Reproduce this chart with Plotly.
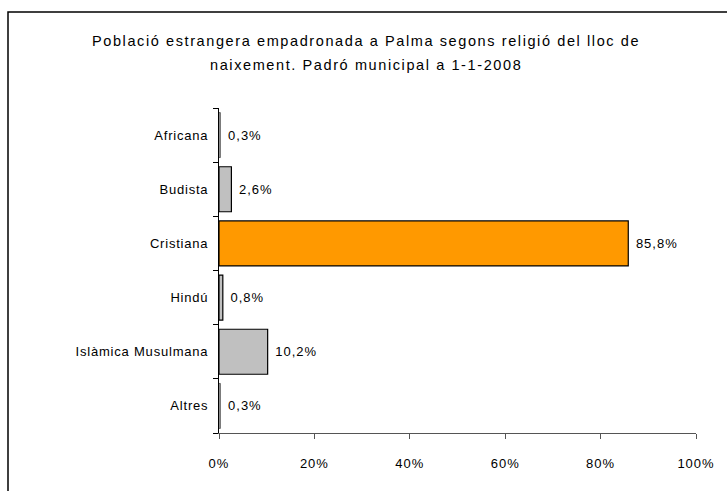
import plotly.graph_objects as go

categories = ["Africana", "Budista", "Cristiana", "Hindú", "Islàmica Musulmana", "Altres"]
values = [0.3, 2.6, 85.8, 0.8, 10.2, 0.3]
bar_colors = ["#C0C0C0", "#C0C0C0", "#FF9900", "#C0C0C0", "#C0C0C0", "#C0C0C0"]
x_ticks = [0, 20, 40, 60, 80, 100]
title_lines = ["Població estrangera empadronada a Palma segons religió del lloc de",
               "naixement. Padró municipal a 1-1-2008"]

FONT = "Liberation Sans, Arial, sans-serif"

def spaced(s, ls):
    return f'<span style="letter-spacing:{ls}px">{s}</span>'

W, H = 727, 491
L, R, T, B = 219, 31, 108, 58
pw, ph = W - L - R, H - T - B

def px_x(x):
    return (x - L) / pw

def px_y(y):
    return (H - B - y) / ph

labels = [spaced("\u00a0" + f"{v:.1f}".replace(".", ",") + "%", 1.0) for v in values]
# hairline outlines for bars narrower than their own border
outline_widths = [1.2 if v >= 0.5 else 0.5 for v in values]

fig = go.Figure()
fig.add_trace(go.Bar(
    y=categories, x=values, orientation="h",
    marker=dict(color=bar_colors, line=dict(color="black", width=outline_widths)),
    text=labels, texttemplate="%{text}", textposition="outside",
    textfont=dict(family=FONT, size=13, color="black"),
    cliponaxis=False, hoverinfo="skip",
))

fig.update_layout(
    width=W, height=H,
    margin=dict(l=L, r=R, t=T, b=B),
    paper_bgcolor="white", plot_bgcolor="white",
    bargap=0.17, separators=",.", showlegend=False,
    font=dict(family=FONT, size=13, color="black"),
)
fig.update_xaxes(
    range=[0, 100], tickmode="array", tickvals=x_ticks,
    ticktext=[spaced(f"{v}%", 1.0) for v in x_ticks],
    showgrid=False, zeroline=False,
    showline=True, linecolor="#555555", linewidth=1,
    ticks="outside", ticklen=5, tickcolor="#555555",
    tickfont=dict(family=FONT, size=13), ticklabelstandoff=13, fixedrange=True,
)
fig.update_yaxes(
    categoryorder="array", categoryarray=categories, autorange="reversed",
    tickmode="array", tickvals=categories,
    ticktext=[spaced(c, 0.8) for c in categories],
    showgrid=False, zeroline=False,
    showline=True, linecolor="black", linewidth=1,
    ticks="outside", ticklen=5, tickson="boundaries", tickcolor="black",
    tickfont=dict(family=FONT, size=13), ticklabelstandoff=7, fixedrange=True,
)

# chart frame
fig.add_shape(type="rect", xref="paper", yref="paper",
              x0=px_x(8), x1=px_x(740), y0=px_y(500), y1=px_y(12),
              line=dict(color="black", width=1.5), fillcolor="rgba(0,0,0,0)", layer="below")

for line, ypix in zip(title_lines, [41, 65]):
    fig.add_annotation(text=spaced(line, 1.6), xref="paper", yref="paper",
                       x=px_x(366), y=px_y(ypix), xanchor="center", yanchor="middle",
                       showarrow=False, font=dict(family=FONT, size=14.5, color="black"))

fig.write_html("out.html", config={"displayModeBar": False},
               post_script="document.body.style.margin='0';")
